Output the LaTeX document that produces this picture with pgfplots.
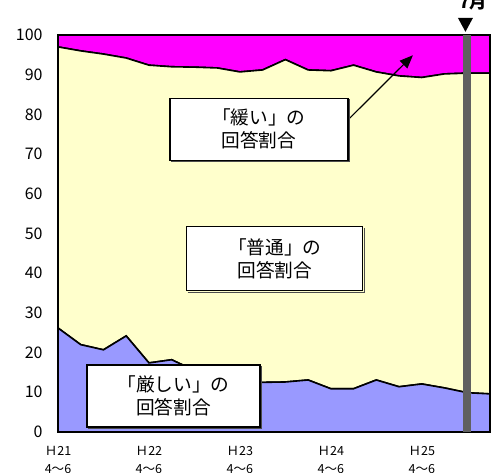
\documentclass[border=0pt]{standalone}
\usepackage{fontspec}
\setmainfont{Noto Sans CJK JP}
\usepackage{pgfplots}
\pgfplotsset{compat=1.18}
\usepackage{pgfplotstable}
\usetikzlibrary{arrows.meta}

\definecolor{kibishii}{RGB}{153,153,255}
\definecolor{futsuu}{RGB}{255,255,204}
\definecolor{yurui}{RGB}{255,0,255}
\definecolor{barGray}{RGB}{96,96,96}

% lower = 「厳しい」, upper = 「厳しい」+「普通」
\pgfplotstableread{
idx lower upper
0 26.2 97.0
1 22.0 96.0
2 20.7 95.2
3 24.2 94.2
4 17.4 92.4
5 18.2 92.0
6 15.5 91.9
7 13.5 91.7
8 12.7 90.7
9 12.5 91.2
10 12.6 93.8
11 13.1 91.2
12 10.9 91.0
13 10.9 92.4
14 13.1 90.7
15 11.4 89.7
16 12.1 89.3
17 11.1 90.2
18 9.9 90.4
19 9.6 90.4
}\shares

\begin{document}
\begin{tikzpicture}
\begin{axis}[
  name=ax,
  scale only axis,
  width=324pt, height=297.75pt,
  xmin=0, xmax=19, ymin=0, ymax=100,
  stack plots=y,
  clip=false,
  axis line style={line width=1.2pt},
  tick align=inside,
  major tick length=4pt,
  tick style={black, line width=0.6pt},
  xtick pos=bottom, ytick pos=left,
  ytick={0,10,...,100},
  xtick={0,4,8,12,16},
  xticklabels={{Ｈ21\\4〜6},{Ｈ22\\4〜6},{Ｈ23\\4〜6},{Ｈ24\\4〜6},{Ｈ25\\4〜6}},
  xticklabel style={align=center, font=\fontsize{9.4}{13.5}\selectfont, yshift=-7pt},
  yticklabel style={font=\fontsize{12}{14}\selectfont, xshift=-8pt},
  /pgf/number format/assume math mode=true,
]
\addplot[fill=kibishii, draw=black, line width=1.2pt] table[x=idx, y=lower] {\shares} \closedcycle;
\addplot[fill=futsuu, draw=black, line width=1.2pt] table[x=idx, y expr=\thisrow{upper}-\thisrow{lower}] {\shares} \closedcycle;
\addplot[fill=yurui, draw=black, line width=1.2pt] table[x=idx, y expr=100-\thisrow{upper}] {\shares} \closedcycle;
\end{axis}

\begin{axis}[
  scale only axis,
  width=324pt, height=297.75pt,
  at={(ax.south west)}, anchor=south west,
  xmin=0, xmax=19, ymin=0, ymax=100,
  clip=false,
  hide axis,
]
% marker bar
\addplot[barGray, line width=6pt] coordinates {(18,0) (18,100)};
\fill[black] (axis cs:17.59,104.3) -- (axis cs:18.25,104.3) -- (axis cs:17.92,100.8) -- cycle;

\draw[-{Triangle[length=10pt,width=8pt]}, line width=0.9pt] (axis cs:12.75,78.6) -- (axis cs:15.61,94.9);

\tikzset{lbl/.style={draw=black, fill=white, line width=0.8pt, align=center,
  font=\fontsize{14}{17.25}\selectfont, inner sep=0pt,
  append after command={\pgfextra{\draw[black!70, line width=0.8pt]
    ([xshift=1pt,yshift=-0.8pt]\tikzlastnode.south west) -- ([xshift=0.8pt,yshift=-0.8pt]\tikzlastnode.south east)
    -- ([xshift=0.8pt,yshift=-1pt]\tikzlastnode.north east);}}}}
\node[lbl, minimum width=133.5pt, minimum height=46.5pt] at (axis cs:8.84,76.3) {「緩い」の\\回答割合};
\node[lbl, minimum width=132pt, minimum height=48pt] at (axis cs:9.54,43.6) {「普通」の\\回答割合};
\node[lbl, minimum width=129.75pt, minimum height=46.5pt] at (axis cs:5.08,9.07) {「厳しい」の\\回答割合};
\end{axis}

\node[anchor=base, font=\bfseries\fontsize{13}{15}\selectfont] at ([xshift=311.25pt, yshift=317.5pt]ax.south west) {7月};

\pgfresetboundingbox
\useasboundingbox ([xshift=-43.5pt, yshift=-30.75pt]ax.south west) rectangle ++(375pt,354.75pt);
\end{tikzpicture}
\end{document}
